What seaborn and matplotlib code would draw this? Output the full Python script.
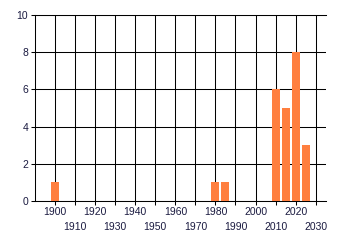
import matplotlib
matplotlib.use("Agg")
import matplotlib.pyplot as plt
import seaborn as sns
import pandas as pd

years = [1900, 1980, 1985, 2010, 2015, 2020, 2025]
counts = [1, 1, 1, 6, 5, 8, 3]
major_ticks = [1900, 1920, 1940, 1960, 1980, 2000, 2020]
minor_ticks = [1910, 1930, 1950, 1970, 1990, 2010, 2030]
y_ticks = [0, 2, 4, 6, 8, 10]

sns.set_style("white")
plt.rcParams['font.family'] = ['Liberation Sans', 'DejaVu Sans']

df = pd.DataFrame({"year": years, "count": counts})

fig = plt.figure(figsize=(3.4, 2.45), dpi=100)
ax = fig.add_axes([35/340, 1-201/245, (325.7-35)/340, (201-15)/245])

sns.barplot(data=df, x="year", y="count", native_scale=True, color="#FF7F3F",
            saturation=1, width=0.8, ax=ax, zorder=3, edgecolor="none")

ax.set_xlim(1890, 2035)
ax.set_ylim(0, 10)
ax.set_xticks(major_ticks)
ax.set_xticklabels([str(t) for t in major_ticks])
ax.set_xticks(minor_ticks, minor=True)
ax.set_xticklabels([str(t) for t in minor_ticks], minor=True)
ax.set_yticks(y_ticks)
ax.set_yticklabels([str(t) for t in y_ticks])

txtc = "#1a1a40"
ax.tick_params(axis="x", which="major", length=3, width=0.75, color="black",
               labelsize=7.5, labelcolor=txtc, pad=1.5, direction="out", bottom=True)
ax.tick_params(axis="x", which="minor", length=3, width=0.75, color="black",
               labelsize=7.5, labelcolor=txtc, pad=12, direction="out", bottom=True)
ax.tick_params(axis="y", length=3, width=0.75, color="black",
               labelsize=7.5, labelcolor=txtc, pad=2, direction="out", left=True)

ax.grid(True, which="both", axis="x", color="black", linewidth=0.75, zorder=1)
ax.grid(True, which="major", axis="y", color="black", linewidth=0.75, zorder=1)
ax.set_axisbelow(True)

for s in ["left", "bottom", "top"]:
    ax.spines[s].set_visible(True)
    ax.spines[s].set_color("black")
    ax.spines[s].set_linewidth(0.75)
ax.spines["right"].set_visible(False)

ax.set_xlabel("")
ax.set_ylabel("")

fig.savefig("out.png", dpi=100)
